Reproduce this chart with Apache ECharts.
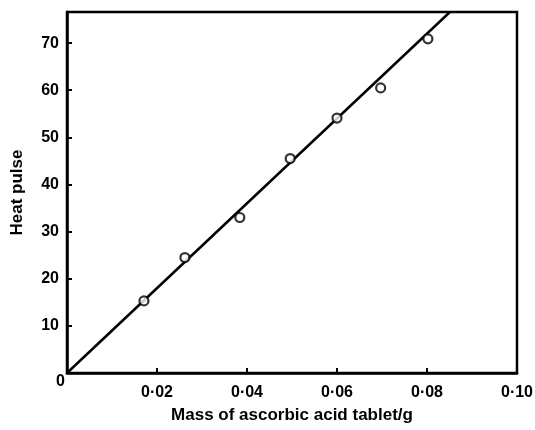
<!DOCTYPE html>
<html>
<head>
<meta charset="utf-8">
<script src="https://cdn.jsdelivr.net/npm/echarts@6/dist/echarts.min.js"></script>
<style>
    html, body { margin: 0; padding: 0; background: #fff; }
    #chart { width: 535px; height: 430px; }
</style>
</head>
<body>
<div id="chart"></div>
<script>
// 测量点：药片质量 (g) 与 热脉冲
const massData = [0.0171, 0.0262, 0.0384, 0.0496, 0.0600, 0.0697, 0.0802];
const pulseData = [15.3, 24.5, 33.0, 45.5, 54.1, 60.5, 70.9];
// 拟合直线的两个端点
const fitX = [0, 0.0851];
const fitY = [0, 76.6];
// 坐标轴范围
const xMax = 0.10;
const xStep = 0.02;
const yMax = 76.6;
const yStep = 10;

const font = 'Liberation Sans, Arial, sans-serif';
const ink = '#000';

let chart = echarts.init(document.getElementById('chart'), null, {renderer: 'canvas'});

let option = {
    animation: false,
    grid: {
        left: 67,
        right: 18,
        top: 12,
        bottom: 57,
        containLabel: false,
        outerBoundsMode: 'none',
        show: true,
        borderColor: ink,
        borderWidth: 2.5
    },
    xAxis: {
        type: 'value',
        min: 0,
        max: xMax,
        interval: xStep,
        name: 'Mass of ascorbic acid tablet/g',
        nameLocation: 'middle',
        nameGap: 34,
        nameTextStyle: {
            color: ink,
            fontFamily: font,
            fontWeight: 'bold',
            fontSize: 17
        },
        axisLine: {lineStyle: {color: ink, width: 2.5}},
        axisTick: {inside: true, length: 5, lineStyle: {color: ink, width: 2}},
        splitLine: {show: false},
        axisLabel: {
            color: ink,
            fontFamily: font,
            fontWeight: 'bold',
            fontSize: 16,
            margin: 12,
            showMaxLabel: true,
            hideOverlap: false,
            formatter: (v) => {
                if (v === 0) return '';
                return v.toFixed(2).replace('.', '·');
            }
        }
    },
    yAxis: {
        type: 'value',
        min: 0,
        max: yMax,
        interval: yStep,
        name: 'Heat pulse',
        nameLocation: 'middle',
        nameGap: 41,
        nameTextStyle: {
            color: ink,
            fontFamily: font,
            fontWeight: 'bold',
            fontSize: 17
        },
        axisLine: {lineStyle: {color: ink, width: 2.5}},
        axisTick: {inside: true, length: 5, lineStyle: {color: ink, width: 2}},
        splitLine: {show: false},
        axisLabel: {
            color: ink,
            fontFamily: font,
            fontWeight: 'bold',
            fontSize: 16,
            margin: 2,
            formatter: (v) => {
                if (v === 0) return '{z|0}';
                if (Math.abs(v % 10) > 1e-6) return '';
                return '{n|' + v + '}';
            },
            rich: {
                n: {fontFamily: font, fontWeight: 'bold', fontSize: 16, color: ink, padding: [0, 6, 0, 0]},
                z: {fontFamily: font, fontWeight: 'bold', fontSize: 16, color: ink, padding: [18, 0, 0, 0]}
            }
        }
    },
    series: [
        {
            name: 'fit',
            type: 'line',
            data: fitX.map((x, i) => [x, fitY[i]]),
            showSymbol: false,
            lineStyle: {color: ink, width: 2.5},
            z: 2
        },
        {
            name: 'measured',
            type: 'scatter',
            data: massData.map((x, i) => [x, pulseData[i]]),
            symbol: 'circle',
            symbolSize: 9,
            itemStyle: {color: '#fff', borderColor: ink, borderWidth: 2.2},
            z: 3
        }
    ]
};

chart.setOption(option);
</script>
</body>
</html>
